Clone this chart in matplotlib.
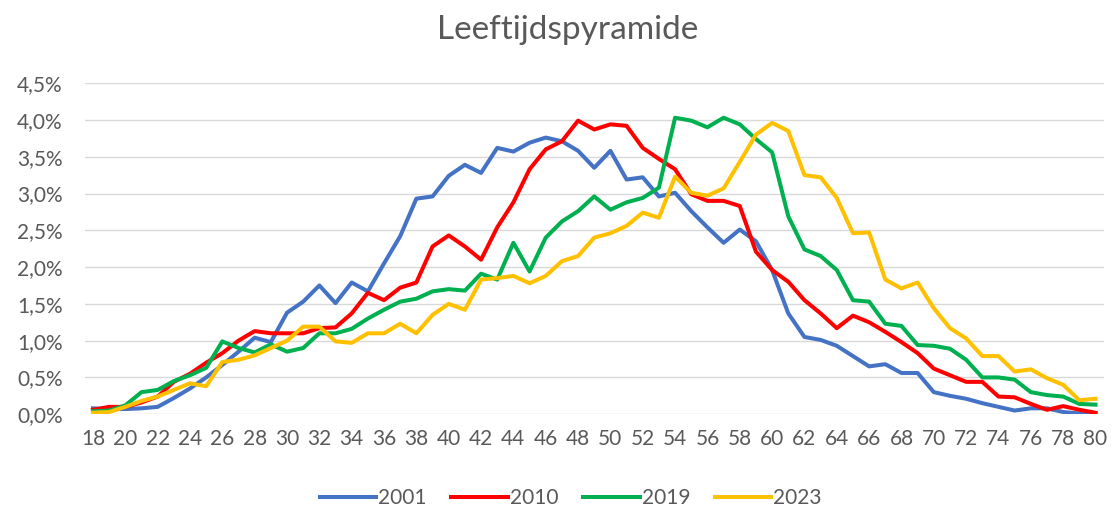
import numpy as np
import matplotlib.pyplot as plt
from matplotlib.ticker import FuncFormatter

ages = list(range(18, 81))

y2001 = [0.08, 0.07, 0.07, 0.08, 0.10, 0.22, 0.35, 0.50, 0.67, 0.85,
         1.04, 0.98, 1.38, 1.53, 1.75, 1.51, 1.79, 1.67, 2.05, 2.42,
         2.93, 2.96, 3.24, 3.39, 3.28, 3.62, 3.57, 3.69, 3.76, 3.71,
         3.58, 3.35, 3.58, 3.19, 3.22, 2.96, 3.01, 2.76, 2.54, 2.33,
         2.51, 2.35, 1.96, 1.37, 1.05, 1.01, 0.93, 0.79, 0.65, 0.68,
         0.56, 0.56, 0.30, 0.25, 0.21, 0.15, 0.10, 0.05, 0.08, 0.08,
         0.03, 0.01, 0.01]

y2010 = [0.06, 0.10, 0.10, 0.16, 0.24, 0.44, 0.55, 0.70, 0.83, 1.00,
         1.13, 1.10, 1.10, 1.10, 1.17, 1.18, 1.37, 1.65, 1.55, 1.72,
         1.79, 2.28, 2.43, 2.28, 2.10, 2.54, 2.88, 3.33, 3.60, 3.71,
         3.99, 3.87, 3.94, 3.92, 3.62, 3.47, 3.33, 2.99, 2.90, 2.90,
         2.83, 2.21, 1.96, 1.80, 1.55, 1.37, 1.17, 1.34, 1.25, 1.12,
         0.98, 0.83, 0.62, 0.53, 0.44, 0.44, 0.24, 0.23, 0.14, 0.06,
         0.11, 0.06, 0.02]

y2019 = [0.04, 0.05, 0.12, 0.30, 0.33, 0.45, 0.53, 0.63, 0.99, 0.90,
         0.84, 0.95, 0.85, 0.90, 1.10, 1.10, 1.16, 1.30, 1.42, 1.53,
         1.57, 1.67, 1.70, 1.68, 1.91, 1.83, 2.33, 1.94, 2.40, 2.62,
         2.76, 2.96, 2.78, 2.88, 2.94, 3.08, 4.03, 3.99, 3.90, 4.03,
         3.94, 3.74, 3.56, 2.69, 2.24, 2.15, 1.96, 1.55, 1.53, 1.23,
         1.20, 0.94, 0.93, 0.89, 0.74, 0.50, 0.50, 0.47, 0.30, 0.26,
         0.24, 0.14, 0.13]

y2023 = [0.02, 0.03, 0.10, 0.18, 0.24, 0.33, 0.42, 0.38, 0.71, 0.74,
         0.80, 0.90, 1.00, 1.19, 1.19, 0.99, 0.97, 1.10, 1.10, 1.23,
         1.10, 1.35, 1.50, 1.42, 1.83, 1.85, 1.88, 1.78, 1.88, 2.08,
         2.15, 2.40, 2.46, 2.56, 2.74, 2.67, 3.23, 3.01, 2.97, 3.07,
         3.43, 3.80, 3.96, 3.85, 3.25, 3.22, 2.94, 2.46, 2.47, 1.83,
         1.71, 1.79, 1.44, 1.17, 1.03, 0.79, 0.79, 0.58, 0.61, 0.49,
         0.40, 0.19, 0.21]

series = [("2001", y2001, "#4472C4"),
          ("2010", y2010, "#FF0000"),
          ("2019", y2019, "#00B050"),
          ("2023", y2023, "#FFC000")]

plt.rcParams['font.family'] = ['Lato', 'DejaVu Sans']
txt = "#595959"

fig = plt.figure(figsize=(11.17, 5.07), dpi=100)
ax = fig.add_axes([0.076, 0.183, 0.912, 0.653])

for name, vals, col in series:
    ax.plot(ages, vals, color=col, lw=2.9, label=name, solid_joinstyle='round')

ax.set_xlim(17.5, 80.5)
ax.set_ylim(0, 4.5)
ax.set_yticks(np.arange(0, 4.51, 0.5))
ax.yaxis.set_major_formatter(FuncFormatter(lambda v, p: ("%.1f%%" % v).replace(".", ",")))
ax.set_xticks(range(18, 81, 2))
ax.grid(axis='y', color="#d9d9d9", lw=1)
ax.set_axisbelow(True)
for s in ax.spines.values():
    s.set_visible(False)
ax.tick_params(length=0, labelsize=15, labelcolor=txt)
ax.tick_params(axis='y', pad=16)
ax.tick_params(axis='x', pad=11)

fig.text(0.508, 0.94, "Leeftijdspyramide", ha='center', va='center', fontsize=24, color=txt)
fig.legend(loc='center', bbox_to_anchor=(0.511, 0.018), ncol=4, frameon=False,
           fontsize=15, handlelength=2.7, columnspacing=1.2, handletextpad=0.1,
           labelcolor=txt)

plt.savefig("out.png", dpi=100)
